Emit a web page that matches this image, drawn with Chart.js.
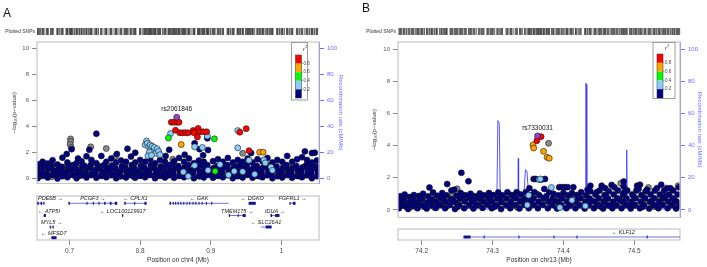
<!DOCTYPE html>
<html>
<head>
<meta charset="utf-8">
<script src="https://cdn.jsdelivr.net/npm/chart.js@4.4.1/dist/chart.umd.min.js"></script>
<style>
  body { margin: 0; background: #fff; width: 707px; height: 267px; position: relative; overflow: hidden; }
  canvas { position: absolute; }
</style>
</head>
<body>
<canvas id="mainA" width="353" height="190" style="left:0px;top:0px"></canvas>
<canvas id="geneA" width="353" height="77" style="left:0px;top:190px"></canvas>
<canvas id="mainB" width="352" height="224" style="left:355px;top:0px"></canvas>
<canvas id="geneB" width="352" height="45" style="left:355px;top:222px"></canvas>
<script>
// ---- data: panel A (chr4) ----
const leadA = [[0.8517, 4.72]];
const redA = [[0.844,4.33],[0.848,4.33],[0.852,4.33],[0.855,4.33],[0.850,3.72],[0.856,3.53],[0.860,3.52],[0.864,3.53],[0.868,3.52],
  [0.875,3.7],[0.876,3.52],[0.882,3.86],[0.884,3.6],[0.889,3.6],[0.894,3.6],[0.881,3.2],[0.941,3.57],[0.950,3.84],[0.954,2.15]];
const orangeA = [[0.858,2.62],[0.969,2.04],[0.974,2.04]];
const greenA = [[0.840,3.13],[0.905,3.06],[0.906,0.58]];
const lblueA = [[0.843,3.47],[0.809,2.9],[0.807,2.6],[0.810,2.72],[0.812,2.45],[0.814,2.6],[0.815,2.3],[0.817,2.5],[0.819,2.15],
  [0.820,2.4],[0.822,1.95],[0.824,2.3],[0.826,2.1],[0.828,1.85],[0.813,2.05],[0.811,1.75],[0.816,1.8],[0.877,2.45],[0.888,2.4],
  [0.895,3.27],[0.938,3.69],[0.938,2.37],[0.954,1.42],[0.975,1.45],[0.977,1.22],[0.985,0.9],[0.987,0.65],[0.861,0.52],[0.877,1.02],
  [0.933,0.58],[0.896,0.65],[0.945,0.55],[0.925,0.3],[0.868,0.2],[0.913,1.1],[0.962,0.35]];
const greyA = [[0.7015,3.05],[0.7015,2.85],[0.701,2.62],[0.7025,2.4],[0.730,2.45],[0.752,2.32],[0.945,1.95],[0.657,0.2],[0.664,0.62],
  [0.674,0.15],[0.688,0.4],[0.695,0.92],[0.707,0.25],[0.714,0.7],[0.727,0.32],[0.741,0.82],[0.756,0.35],[0.770,0.18],[0.784,0.6],
  [0.791,0.15],[0.804,0.85],[0.812,0.3],[0.825,0.62],[0.838,0.25],[0.852,0.92],[0.866,0.4],[0.885,0.2],[0.899,0.68],[0.913,0.3],
  [0.927,0.8],[0.941,0.25],[0.955,0.62],[0.969,0.2],[0.983,0.72],[0.997,0.35],[1.011,0.85],[1.025,0.2],[1.039,0.6],[0.765,1.7],[0.846,1.5],
  [0.667,0.95],[0.720,0.55],[0.778,1.05],[0.832,0.7],[0.893,0.95],[0.949,0.75],[1.004,0.55],[1.046,0.9]];
const navyA = [
  [0.655,0.05],[0.656,0.42],[0.655,0.78],[0.657,1.12],
  [0.662,0.22],[0.661,0.6],[0.663,0.95],[0.662,1.3],
  [0.669,0.1],[0.668,0.45],[0.670,0.82],[0.669,1.18],
  [0.676,0.3],[0.677,0.64],[0.675,1.0],[0.676,1.42],
  [0.683,0.02],[0.682,0.38],[0.684,0.74],[0.683,1.1],
  [0.690,0.2],[0.691,0.56],[0.689,0.92],[0.690,1.62],
  [0.697,0.12],[0.696,0.48],[0.698,0.86],[0.697,1.25],[0.696,1.9],
  [0.704,0.3],[0.703,0.66],[0.705,1.05],[0.703,2.27],
  [0.710,0.05],[0.711,0.42],[0.709,0.78],[0.710,1.2],[0.712,1.55],
  [0.717,0.25],[0.716,0.6],[0.718,0.96],[0.717,1.35],
  [0.724,0.1],[0.723,0.45],[0.725,0.82],[0.724,1.72],[0.728,2.22],
  [0.731,0.3],[0.732,0.68],[0.730,1.05],[0.731,1.45],
  [0.738,0.08],[0.737,0.4],[0.739,0.78],[0.738,1.2],[0.738,3.45],
  [0.745,0.22],[0.746,0.58],[0.744,0.95],[0.745,1.75],
  [0.752,0.12],[0.751,0.5],[0.753,0.86],[0.752,1.3],
  [0.759,0.3],[0.758,0.65],[0.760,1.02],[0.759,1.55],
  [0.766,0.05],[0.767,0.42],[0.765,0.8],[0.766,1.25],[0.767,1.9],
  [0.773,0.2],[0.772,0.58],[0.774,0.95],[0.773,1.4],
  [0.780,0.1],[0.781,0.48],[0.779,0.85],[0.780,1.3],[0.782,2.3],
  [0.787,0.28],[0.786,0.65],[0.788,1.05],[0.787,1.7],
  [0.793,0.08],[0.794,0.45],[0.792,0.8],[0.793,1.25],[0.793,2.0],
  [0.800,0.22],[0.799,0.6],[0.801,0.98],[0.800,1.45],
  [0.807,0.12],[0.808,0.5],[0.806,0.85],[0.807,1.3],
  [0.814,0.3],[0.813,0.68],[0.815,1.05],[0.814,1.5],
  [0.821,0.05],[0.822,0.42],[0.820,0.8],[0.821,1.2],
  [0.828,0.22],[0.827,0.6],[0.829,0.95],[0.828,1.45],
  [0.835,0.1],[0.836,0.48],[0.834,0.85],[0.835,1.3],[0.836,1.75],
  [0.841,0.3],[0.842,0.65],[0.840,1.05],[0.841,2.22],
  [0.848,0.08],[0.847,0.45],[0.849,0.82],[0.848,1.35],
  [0.855,0.22],[0.856,0.6],[0.854,0.98],[0.855,1.6],
  [0.862,0.12],[0.861,0.5],[0.863,0.88],[0.862,1.3],[0.863,1.85],
  [0.869,0.28],[0.870,0.65],[0.868,1.05],[0.869,1.55],
  [0.876,0.05],[0.875,0.42],[0.877,0.8],[0.876,1.2],[0.877,2.72],
  [0.883,0.2],[0.884,0.58],[0.882,0.95],[0.883,1.4],[0.884,2.27],
  [0.890,0.1],[0.889,0.48],[0.891,0.85],[0.890,1.3],[0.889,1.8],
  [0.896,0.3],[0.897,0.68],[0.895,1.05],[0.896,2.2],[0.895,3.1],
  [0.903,0.08],[0.902,0.45],[0.904,0.82],[0.903,1.35],
  [0.910,0.22],[0.911,0.6],[0.909,0.98],[0.910,1.5],
  [0.917,0.12],[0.916,0.5],[0.918,0.88],[0.917,1.3],
  [0.924,0.28],[0.925,0.65],[0.923,1.05],[0.924,1.6],
  [0.931,0.05],[0.930,0.42],[0.932,0.8],[0.931,1.25],
  [0.938,0.2],[0.939,0.58],[0.937,0.95],[0.938,1.45],
  [0.945,0.1],[0.944,0.48],[0.946,0.85],[0.945,1.3],
  [0.952,0.3],[0.953,0.68],[0.951,1.05],[0.952,1.55],[0.957,1.97],
  [0.959,0.08],[0.958,0.45],[0.960,0.82],[0.959,1.25],
  [0.966,0.22],[0.967,0.6],[0.965,0.98],[0.966,1.5],
  [0.973,0.12],[0.972,0.5],[0.974,0.88],[0.973,1.35],
  [0.980,0.28],[0.981,0.65],[0.979,1.05],[0.980,1.6],
  [0.987,0.05],[0.986,0.42],[0.988,0.8],[0.987,1.25],
  [0.994,0.2],[0.995,0.58],[0.993,0.95],[0.994,1.45],
  [1.001,0.1],[1.000,0.48],[1.002,0.85],[1.001,1.3],
  [1.008,0.3],[1.009,0.68],[1.007,1.05],[1.008,1.75],
  [1.015,0.08],[1.014,0.45],[1.016,0.82],[1.015,1.3],
  [1.022,0.22],[1.023,0.6],[1.021,0.98],[1.022,1.5],
  [1.029,0.12],[1.028,0.5],[1.030,0.88],[1.029,1.65],[1.033,2.1],
  [1.036,0.28],[1.037,0.65],[1.035,1.05],[1.036,1.45],
  [1.043,0.05],[1.042,0.42],[1.044,0.8],[1.043,1.25],[1.043,1.97],[1.047,2.0],
  [1.050,0.2],[1.051,0.58],[1.049,0.95],[1.050,1.4],
  [0.659,0.3],[0.673,0.85],[0.686,0.55],[0.700,0.95],[0.714,0.25],[0.721,1.0],[0.735,0.6],[0.749,1.05],[0.763,0.35],
  [0.777,0.75],[0.790,0.55],[0.804,0.3],[0.818,0.9],[0.832,0.35],[0.845,1.1],[0.859,0.7],[0.872,0.35],[0.887,1.05],
  [0.900,0.5],[0.914,0.75],[0.928,0.35],[0.942,1.05],[0.956,0.45],[0.970,0.7],[0.984,1.0],[0.998,0.6],[1.012,0.3],
  [1.026,0.7],[1.040,1.1]
];
const recombA = [[0.654,1],[0.68,0.5],[0.70,2],[0.72,1],[0.76,0.5],[0.79,3],[0.81,1],[0.85,0.5],[0.88,1.5],[0.92,0.8],
  [0.96,4],[0.99,1.2],[1.02,0.6],[1.053,1]];
const genesA = [
  {name: 'PDE6B', start: 0.619, end: 0.6645, strand: '+', row: 0.73, exons: [[0.6545,0.6565],[0.659,0.661],[0.663,0.6645]]},
  {name: 'ATP5I', start: 0.6635, end: 0.6665, strand: '-', row: 1.95, exons: [[0.6635,0.6665]]},
  {name: 'MYL5', start: 0.672, end: 0.6775, strand: '+', row: 3.1, exons: [[0.672,0.6735],[0.676,0.6775]]},
  {name: 'MFSD7', start: 0.6735, end: 0.682, strand: '-', row: 4.17, exons: [[0.6745,0.6815]]},
  {name: 'PCGF3', start: 0.6985, end: 0.7675, strand: '+', row: 0.73, exons: [[0.6985,0.7005],[0.724,0.7255],[0.733,0.7345],[0.741,0.7425],[0.749,0.751],[0.757,0.7595],[0.764,0.7675]]},
  {name: 'LOC100129917', start: 0.7745, end: 0.776, strand: '-', row: 1.95, exons: [[0.7745,0.776]]},
  {name: 'CPLX1', start: 0.7775, end: 0.809, strand: '-', row: 0.73, exons: [[0.7775,0.7795],[0.7915,0.793],[0.806,0.809]]},
  {name: 'GAK', start: 0.8415, end: 0.925, strand: '-', row: 0.73, exons: [[0.8415,0.8435],[0.846,0.847],[0.8495,0.8505],[0.853,0.854],[0.857,0.858],[0.861,0.862],[0.8655,0.8665],[0.8695,0.8705],[0.874,0.875],[0.878,0.879],[0.8825,0.8835],[0.887,0.888],[0.893,0.894],[0.9005,0.9015]]},
  {name: 'TMEM175', start: 0.9254, end: 0.9493, strand: '+', row: 1.95, exons: [[0.9254,0.927],[0.938,0.939],[0.945,0.9493]]},
  {name: 'DGKO', start: 0.9535, end: 0.9635, strand: '-', row: 0.73, exons: [[0.9535,0.9635]]},
  {name: 'SLC26A1', start: 0.9704, end: 0.9859, strand: '-', row: 3.1, exons: [[0.9775,0.9859]]},
  {name: 'IDUA', start: 0.9845, end: 0.997, strand: '+', row: 1.95, exons: [[0.9845,0.9865],[0.991,0.997]]},
  {name: 'FGFRL1', start: 1.0113, end: 1.0197, strand: '+', row: 0.73, exons: [[1.0113,1.012],[1.016,1.0197]]}
];
const xTicksA = [0.7, 0.8, 0.9, 1];

// ---- data: panel B (chr13) ----
const leadB = [[74.3635, 4.6]];
const redB = [[74.3685,4.55],[74.3625,4.3]];
const orangeB = [[74.357,4.04],[74.358,3.84],[74.372,3.64],[74.377,3.27],[74.380,3.21]];
const greenB = [];
const lblueB = [[74.383,1.39],[74.351,0.91],[74.395,0.14],[74.431,0.24],[74.3656,1.88],[74.3675,1.92],[74.349,0.3],[74.412,0.6]];
const greyB = [[74.379,4.14],[74.171,0.3],[74.179,0.6],[74.186,0.2],[74.193,0.75],[74.200,0.4],[74.207,0.15],[74.214,0.8],
  [74.221,0.35],[74.228,0.7],[74.235,0.2],[74.243,0.9],[74.250,1.31],[74.257,0.55],[74.270,0.3],[74.284,0.65],[74.298,0.2],
  [74.312,0.55],[74.326,0.3],[74.340,0.7],[74.354,0.25],[74.3625,0.99],[74.376,0.6],[74.390,0.2],[74.417,0.45],[74.431,0.75],
  [74.445,0.2],[74.459,0.6],[74.473,0.25],[74.481,1.65],[74.487,0.7],[74.501,0.3],[74.515,0.75],[74.520,1.39],[74.529,0.2],
  [74.543,0.6],[74.557,0.3],[74.562,1.5],[74.174,0.85],[74.196,0.65],[74.232,0.45],[74.185,0.5],[74.218,0.15],[74.263,0.75],
  [74.292,0.45],[74.335,0.15],[74.368,0.45],[74.404,0.75],[74.452,0.45],[74.494,0.2],[74.536,0.75]];
const navyB = [
  [74.168,0.1],[74.169,0.45],[74.170,0.85],
  [74.174,0.28],[74.175,0.62],[74.176,0.95],
  [74.181,0.05],[74.182,0.42],[74.183,0.8],
  [74.187,0.25],[74.188,0.62],[74.189,0.92],
  [74.194,0.1],[74.195,0.48],[74.196,0.86],
  [74.200,0.3],[74.201,0.68],[74.202,1.0],
  [74.207,0.08],[74.208,0.46],[74.209,0.84],[74.211,1.39],
  [74.214,0.28],[74.215,0.64],[74.216,1.08],
  [74.220,0.12],[74.221,0.5],[74.222,0.88],
  [74.227,0.3],[74.228,0.7],[74.229,1.04],
  [74.233,0.1],[74.234,0.5],[74.235,0.9],[74.236,1.6],
  [74.240,0.3],[74.241,0.68],[74.242,1.2],[74.246,1.25],
  [74.247,0.05],[74.248,0.45],[74.249,0.88],[74.256,2.3],
  [74.253,0.28],[74.254,0.7],[74.255,1.05],
  [74.260,0.1],[74.261,0.52],[74.262,0.9],[74.266,1.78],
  [74.267,0.3],[74.268,0.72],[74.269,1.0],
  [74.273,0.08],[74.274,0.5],[74.275,0.85],
  [74.280,0.3],[74.281,0.7],[74.282,1.02],
  [74.286,0.12],[74.287,0.5],[74.288,0.9],
  [74.293,0.32],[74.294,0.72],[74.295,1.05],
  [74.299,0.1],[74.300,0.52],[74.301,0.92],
  [74.306,0.28],[74.307,0.7],[74.308,1.08],
  [74.312,0.05],[74.313,0.48],[74.314,0.9],
  [74.319,0.3],[74.320,0.7],[74.321,1.1],
  [74.325,0.1],[74.326,0.5],[74.327,0.92],
  [74.332,0.3],[74.333,0.72],[74.334,1.1],
  [74.338,0.08],[74.339,0.52],[74.340,0.95],
  [74.345,0.3],[74.346,0.7],[74.347,1.1],[74.352,1.35],
  [74.351,0.1],[74.352,0.5],[74.353,0.9],
  [74.358,0.3],[74.358,0.7],[74.358,1.92],[74.361,1.92],[74.359,1.1],
  [74.364,0.1],[74.365,0.5],[74.366,0.9],[74.369,1.88],[74.374,1.92],
  [74.371,0.3],[74.372,0.72],[74.373,1.3],
  [74.378,0.1],[74.379,0.5],[74.380,1.1],
  [74.384,0.3],[74.385,0.7],[74.386,1.0],
  [74.391,0.08],[74.392,0.5],[74.393,0.9],[74.394,1.41],
  [74.398,1.41],[74.397,0.3],[74.398,0.7],[74.402,1.41],[74.400,1.05],
  [74.406,1.41],[74.404,0.1],[74.405,0.5],[74.406,0.9],
  [74.410,0.3],[74.411,0.7],[74.414,1.41],[74.412,1.05],
  [74.417,0.1],[74.418,0.5],[74.419,0.92],
  [74.423,0.3],[74.424,0.72],[74.425,1.1],
  [74.430,0.08],[74.431,0.5],[74.432,0.9],[74.438,1.5],
  [74.436,0.3],[74.437,0.7],[74.438,1.15],
  [74.443,0.1],[74.444,0.52],[74.445,0.95],[74.454,1.5],
  [74.449,0.3],[74.450,0.72],[74.451,1.2],
  [74.456,0.08],[74.457,0.5],[74.458,0.92],[74.459,1.35],
  [74.462,0.3],[74.463,0.7],[74.464,1.15],[74.468,1.55],
  [74.469,0.1],[74.470,0.5],[74.471,0.95],[74.472,1.4],
  [74.475,0.3],[74.476,0.72],[74.477,1.2],[74.485,1.76],
  [74.482,0.1],[74.483,0.5],[74.484,0.95],[74.485,1.45],
  [74.488,0.3],[74.489,0.7],[74.490,1.2],
  [74.495,0.08],[74.496,0.5],[74.497,0.95],[74.508,1.56],
  [74.501,0.3],[74.502,0.72],[74.503,1.2],[74.504,1.5],
  [74.508,0.1],[74.509,0.5],[74.510,0.92],
  [74.514,0.3],[74.515,0.7],[74.516,1.15],
  [74.521,0.08],[74.522,0.5],[74.523,0.95],[74.532,1.35],
  [74.527,0.3],[74.528,0.72],[74.529,1.2],
  [74.534,0.1],[74.535,0.5],[74.536,0.95],[74.538,1.56],
  [74.540,0.3],[74.541,0.72],[74.542,1.2],[74.546,1.35],
  [74.547,0.1],[74.548,0.5],[74.549,0.95],
  [74.553,0.3],[74.554,0.72],[74.555,1.2],
  [74.559,0.08],[74.560,0.5],[74.561,0.95],[74.563,1.4],
  [74.171,0.65],[74.178,0.2],[74.191,0.4],[74.198,0.7],[74.204,0.2],[74.212,0.6],[74.225,0.3],[74.231,0.8],[74.244,0.6],
  [74.251,0.2],[74.258,0.9],[74.271,0.6],[74.277,0.3],[74.284,0.85],[74.297,0.6],[74.303,0.2],[74.310,0.75],[74.323,0.25],
  [74.329,0.85],[74.342,0.55],[74.355,0.65],[74.376,0.85],[74.388,0.55],[74.408,0.25],[74.421,0.75],[74.434,1.25],
  [74.440,0.55],[74.447,1.1],[74.453,0.2],[74.460,0.85],[74.466,0.25],[74.479,0.65],[74.486,1.1],[74.493,0.3],[74.499,0.85],
  [74.506,1.3],[74.512,0.2],[74.518,1.25],[74.525,0.55],[74.531,0.25],[74.544,0.85],[74.551,1.35],[74.557,0.6],[74.564,0.25]
];
const recombB = [[74.166,1],[74.20,0.5],[74.245,1.5],[74.252,2.5],[74.258,2],[74.264,0.8],[74.30,0.5],[74.306,1],[74.3075,55.5],
  [74.3095,54],[74.311,1],[74.3358,1],[74.3363,32],[74.3368,2],[74.3432,3],[74.3445,12],[74.3465,25],[74.3485,24],[74.350,15],
  [74.3505,3],[74.40,0.5],[74.431,1],[74.4315,78.8],[74.4325,78],[74.433,1],[74.4885,1],[74.4893,37.3],[74.490,1],[74.53,0.5],[74.565,0.8]];
const genesB = [
  {name: 'KLF12', start: 74.259, end: 74.71, strand: '-', row: 0.8, exons: [[74.259,74.269],[74.2875,74.2885],[74.3365,74.3375],[74.386,74.387],[74.4185,74.4195],[74.5175,74.5185]]}
];
const xTicksB = [74.2, 74.3, 74.4, 74.5];

// shared
const yTicks = [0, 2, 4, 6, 8, 10];
const recombTicks = [0, 20, 40, 60, 80, 100];
const ldColors = ['#FF0000', '#FFA500', '#00FF00', '#87CEFA', '#000080'];  // top to bottom
const ldLabels = ['0.8', '0.6', '0.4', '0.2'];

Chart.defaults.font.family = '"Liberation Sans", Arial, sans-serif';
Chart.defaults.font.size = 6;

const FONT = '"Liberation Sans", Arial, sans-serif';

const locusPlugin = {
  id: 'locus',
  afterDraw(chart, args, o) {
    const ctx = chart.ctx, a = chart.chartArea, xs = chart.scales.x, ys = chart.scales.y;
    ctx.save();
    ctx.strokeStyle = '#c6c6c6';
    ctx.lineWidth = 1.2;
    ctx.strokeRect(a.left, a.top, a.right - a.left, a.bottom - a.top);

    if (o.kind === 'main') {
      // panel letter
      ctx.fillStyle = '#111';
      ctx.font = '12px ' + FONT;
      ctx.textBaseline = 'middle';
      ctx.fillText(o.letter, o.letterPos[0], o.letterPos[1]);

      // plotted SNPs strip
      ctx.font = '5px ' + FONT;
      ctx.textAlign = 'right';
      ctx.fillStyle = '#333';
      ctx.fillText('Plotted SNPs', a.left - 2, 31.5);
      ctx.fillStyle = 'rgba(70,70,70,0.85)';
      chart.data.datasets.forEach(ds => {
        if (ds.yAxisID === 'y2') return;
        ds.data.forEach(p => {
          const px = xs.getPixelForValue(p[0]);
          ctx.fillRect(px - 0.5, 28, 1, 7);
        });
      });

      // lead SNP label
      ctx.font = '6.5px ' + FONT;
      ctx.textAlign = 'center';
      ctx.fillStyle = '#111';
      ctx.fillText(o.leadName, xs.getPixelForValue(o.lead[0]), ys.getPixelForValue(o.lead[1]) - 7.5);

      // r2 legend
      const L = o.legend;
      ctx.fillStyle = '#fff';
      ctx.fillRect(L.x, L.y, L.w, L.h);
      ctx.strokeStyle = '#888';
      ctx.lineWidth = 0.8;
      ctx.strokeRect(L.x, L.y, L.w, L.h);
      const bh = (L.barBottom - L.barTop) / ldColors.length;
      ldColors.forEach((c, i) => {
        ctx.fillStyle = c;
        ctx.fillRect(L.barX, L.barTop + i * bh, L.barW, bh);
      });
      ctx.strokeStyle = '#333';
      ctx.lineWidth = 0.5;
      ctx.strokeRect(L.barX, L.barTop, L.barW, L.barBottom - L.barTop);
      ctx.font = '4.5px ' + FONT;
      ctx.textAlign = 'left';
      ctx.fillStyle = '#444';
      ldLabels.forEach((t, i) => {
        const yy = L.barTop + (i + 1) * bh;
        ctx.fillRect(L.barX + L.barW, yy - 0.25, 1.5, 0.5);
        ctx.fillText(t, L.barX + L.barW + 2, yy);
      });
      ctx.font = 'italic 5.5px ' + FONT;
      ctx.fillStyle = '#222';
      ctx.fillText('r', L.rX, L.rY);
      ctx.font = '3.5px ' + FONT;
      ctx.fillText('2', L.rX + 2.2, L.rY - 2);
    } else {
      // gene track
      ctx.textAlign = 'center';
      ctx.textBaseline = 'middle';
      o.genes.forEach(g => {
        const y = ys.getPixelForValue(g.row);
        const gx1 = xs.getPixelForValue(g.start), gx2 = xs.getPixelForValue(g.end);
        const x1 = Math.max(a.left, gx1), x2 = Math.min(a.right, gx2);
        ctx.strokeStyle = '#5050d0';
        ctx.lineWidth = 0.8;
        ctx.beginPath();
        ctx.moveTo(x1, y);
        ctx.lineTo(x2, y);
        ctx.stroke();
        ctx.fillStyle = '#16168a';
        g.exons.forEach(([s, e]) => {
          const e1 = Math.max(a.left, xs.getPixelForValue(s));
          const e2 = Math.min(a.right, xs.getPixelForValue(e));
          if (e2 > e1 - 1) ctx.fillRect(e1, y - 1.5, Math.max(1, e2 - e1), 3);
        });
        const text = g.strand === '+' ? g.name + ' \u2192' : '\u2190 ' + g.name;
        ctx.font = 'italic 5.5px ' + FONT;
        const w = ctx.measureText(text).width;
        let cx = (gx1 + gx2) / 2;
        cx = Math.min(Math.max(cx, a.left + w / 2 + 1), a.right - w / 2 - 1);
        ctx.fillStyle = '#222';
        ctx.fillText(text, cx, y - 4.5);
      });
    }
    ctx.restore();
  }
};

function pointSet(data, color) {
  return {data: data, backgroundColor: color, borderColor: '#151515', borderWidth: 0.6, pointRadius: 3, clip: 0};
}

function makeMain(id, p) {
  new Chart(document.getElementById(id).getContext('2d'), {
    type: 'scatter',
    data: {
      datasets: [
        pointSet(p.lead, '#9440c8'),
        pointSet(p.red, ldColors[0]),
        pointSet(p.orange, ldColors[1]),
        pointSet(p.green, ldColors[2]),
        pointSet(p.lblue, ldColors[3]),
        pointSet(p.navy, ldColors[4]),
        pointSet(p.grey, '#8a8a8a'),
        {data: p.recomb, yAxisID: 'y2', showLine: true, pointRadius: 0, borderColor: 'rgba(60,60,255,0.85)', borderWidth: 1, clip: 0}
      ]
    },
    options: {
      responsive: false,
      animation: false,
      events: [],
      layout: {padding: {left: p.padLeft, right: p.padRight, top: 42, bottom: p.padBottom}},
      plugins: {
        legend: {display: false},
        tooltip: {enabled: false},
        locus: {kind: 'main', letter: p.letter, letterPos: p.letterPos, lead: p.lead[0], leadName: p.leadName, legend: p.legend}
      },
      scales: {
        x: {type: 'linear', min: p.xmin, max: p.xmax, display: false},
        y: {
          type: 'linear', position: 'left', min: p.ymin, max: p.ymax,
          afterBuildTicks: s => { s.ticks = yTicks.map(v => ({value: v})); },
          afterFit: s => { s.width = p.yWidth; },
          grid: {drawOnChartArea: false, tickLength: 5, color: '#888'},
          border: {display: false},
          ticks: {color: '#555', padding: 3, font: {size: 6}},
          title: {display: true, text: '\u2212log\u2081\u2080(p\u2212value)', color: '#333', font: {size: 6}, padding: {top: 4, bottom: 0}}
        },
        y2: {
          type: 'linear', position: 'right', min: p.ymin * 10, max: p.ymax * 10,
          afterBuildTicks: s => { s.ticks = recombTicks.map(v => ({value: v})); },
          afterFit: s => { s.width = p.y2Width; },
          grid: {drawOnChartArea: false, tickLength: 5, color: '#6f6fff'},
          border: {display: true, color: '#6f6fff'},
          ticks: {color: '#6f6fff', padding: 3, font: {size: 6}},
          title: {display: true, text: 'Recombination rate (cM/Mb)', color: '#6f6fff', font: {size: 6}, padding: {top: 4, bottom: 0}}
        }
      }
    },
    plugins: [locusPlugin]
  });
}

function makeGenes(id, p) {
  new Chart(document.getElementById(id).getContext('2d'), {
    type: 'scatter',
    data: {datasets: []},
    options: {
      responsive: false,
      animation: false,
      events: [],
      layout: {padding: {left: p.left, right: p.right, top: p.top, bottom: 0}},
      plugins: {
        legend: {display: false},
        tooltip: {enabled: false},
        locus: {kind: 'genes', genes: p.genes}
      },
      scales: {
        x: {
          type: 'linear', position: 'bottom', min: p.xmin, max: p.xmax,
          afterBuildTicks: s => { s.ticks = p.ticks.map(v => ({value: v})); },
          afterFit: s => { s.height = 27; },
          grid: {drawOnChartArea: false, tickLength: 5, color: '#888'},
          border: {display: false},
          ticks: {color: '#444', padding: 2, maxRotation: 0, font: {size: 6.5}, callback: v => String(v)},
          title: {display: true, text: p.title, color: '#333', font: {size: 6.5}, padding: {top: 0, bottom: 3}}
        },
        y: {type: 'linear', display: false, min: 0, max: p.ymax, reverse: true}
      }
    },
    plugins: [locusPlugin]
  });
}

makeMain('mainA', {
  lead: leadA, red: redA, orange: orangeA, green: greenA, lblue: lblueA, grey: greyA, navy: navyA, recomb: recombA,
  xmin: 0.654, xmax: 1.053, ymin: -0.35, ymax: 10.47,
  padLeft: 7, padRight: 5, padBottom: 3, yWidth: 30, y2Width: 29,
  letter: 'A', letterPos: [3, 14], leadName: 'rs2061846',
  legend: {x: 291.5, y: 42.5, w: 16, h: 57.5, barX: 295.5, barW: 6, barTop: 55, barBottom: 98, rX: 303, rY: 49}
});
makeGenes('geneA', {
  genes: genesA, xmin: 0.654, xmax: 1.053, ticks: xTicksA, left: 37, right: 34, top: 6, ymax: 4.4,
  title: 'Position on chr4 (Mb)'
});
makeMain('mainB', {
  lead: leadB, red: redB, orange: orangeB, green: greenB, lblue: lblueB, grey: greyB, navy: navyB, recomb: recombB,
  xmin: 74.1666, xmax: 74.5645, ymin: -0.47, ymax: 10.44,
  padLeft: 12, padRight: 0, padBottom: 2, yWidth: 31, y2Width: 27,
  letter: 'B', letterPos: [7, 9], leadName: 'rs7330031',
  legend: {x: 298, y: 42.5, w: 22, h: 56, barX: 302, barW: 6, barTop: 54, barBottom: 98, rX: 310, rY: 48}
});
makeGenes('geneB', {
  genes: genesB, xmin: 74.1666, xmax: 74.5645, ticks: xTicksB, left: 43, right: 27, top: 7, ymax: 1.1,
  title: 'Position on chr13 (Mb)'
});
</script>
</body>
</html>
